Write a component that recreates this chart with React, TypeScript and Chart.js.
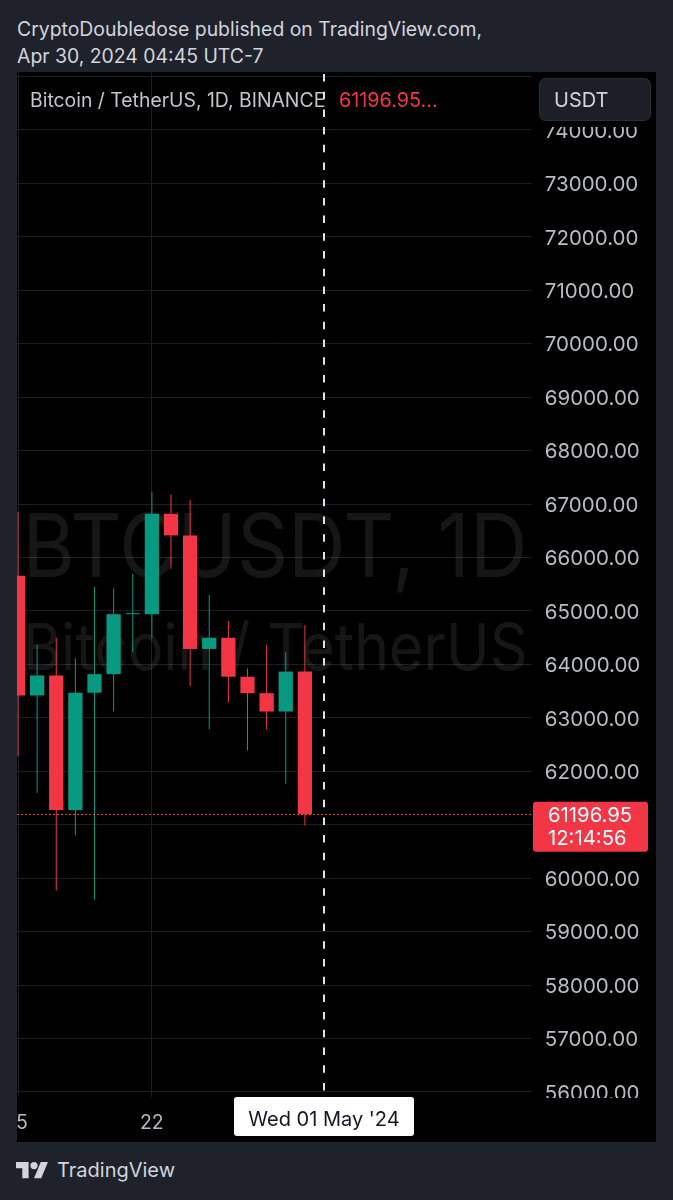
import { useEffect, useRef } from "react";
import { Chart, registerables } from "chart.js";

Chart.register(...registerables);

// ---------- data ----------
const dayLabels = ["Apr 15", "Apr 16", "Apr 17", "Apr 18", "Apr 19", "Apr 20", "Apr 21", "Apr 22", "Apr 23", "Apr 24", "Apr 25", "Apr 26", "Apr 27", "Apr 28", "Apr 29", "Apr 30"];
const openPrices = [65660, 63419.14, 63793.4, 61277.38, 63470.09, 63818.01, 64940.58, 64941.15, 66819.32, 66414.0, 64289.59, 64498.33, 63770.0, 63461.98, 63118.63, 63866.0];
const highPrices = [66860, 64365.0, 64499.0, 64117.79, 65450.0, 65419.0, 65695.56, 67232.35, 67183.01, 67075.37, 65297.94, 64813.0, 63923.41, 64370.0, 64228.35, 64734.0];
const lowPrices = [62280, 61600.0, 59768.59, 60803.35, 59600.01, 63120.0, 64230.0, 64500.0, 65790.0, 63589.87, 62794.0, 63290.0, 62391.24, 62781.0, 61765.53, 60986.0];
const closePrices = [63419.14, 63793.39, 61277.37, 63470.08, 63818.01, 64940.59, 64941.15, 66819.32, 66414.0, 64289.59, 64498.34, 63770.01, 63461.98, 63118.62, 63866.0, 61196.95];

const xTickIndexes = [0, 7];
const xTickLabels = ["15", "22"];
const yTickValues = [56000, 57000, 58000, 59000, 60000, 61000, 62000, 63000, 64000, 65000, 66000, 67000, 68000, 69000, 70000, 71000, 72000, 73000, 74000, 75000];

const lastPrice = 61196.95;
const countdownText = "12:14:56";
const crosshairIndex = 16;
const crosshairDateText = "Wed 01 May '24";
const symbolTitle = "Bitcoin / TetherUS, 1D, BINANCE";
const watermarkLine1 = "BTCUSDT, 1D";
const watermarkLine2 = "Bitcoin / TetherUS";
const currencyText = "USDT";
const headerLine1 = "CryptoDoubledose published on TradingView.com,";
const headerLine2 = "Apr 30, 2024 04:45 UTC-7";
const footerBrand = "TradingView";

// ---------- style ----------
const FONT = "Inter, 'Noto Sans', sans-serif";
const PAGE_BG = "#1f222b";
const UP = "#089981";
const DOWN = "#f23645";
const GRID = "#1c1e24";
const AXIS_TEXT = "#b8bbc3";
const LEGEND_TEXT = "#c2c5cc";
const HEADER_TEXT = "#d1d4dc";
const WATERMARK = "rgba(255,255,255,0.085)";

const X_MIN = -0.0523;
const X_MAX = 26.876;
const Y_MIN = 55906;
const Y_MAX = 75085;

function drawFitText(ctx: CanvasRenderingContext2D, text: string, font: string, cx: number, baseline: number, width: number) {
  ctx.font = font;
  const w = ctx.measureText(text).width;
  ctx.save();
  ctx.translate(cx, baseline);
  ctx.scale(width / w, 1);
  ctx.textAlign = "center";
  ctx.textBaseline = "alphabetic";
  ctx.fillText(text, 0, 0);
  ctx.restore();
}

const tvPlugin = {
  id: "tvOverlay",
  beforeDatasetsDraw(chart: any) {
    const { ctx, chartArea: a } = chart;
    ctx.save();
    ctx.beginPath();
    ctx.rect(a.left, a.top, a.right - a.left, a.bottom - a.top);
    ctx.clip();
    ctx.fillStyle = WATERMARK;
    const cx = (a.left + a.right) / 2 + 0.5;
    drawFitText(ctx, watermarkLine1, `88px ${FONT}`, cx, 505, 505);
    drawFitText(ctx, watermarkLine2, `65px ${FONT}`, cx, 598, 505);
    ctx.restore();
  },
  afterDatasetsDraw(chart: any) {
    const { ctx, chartArea: a, scales } = chart;
    const y = scales.y;
    const x = scales.x;
    ctx.save();
    // last price dotted line
    const py = Math.round(y.getPixelForValue(lastPrice)) + 0.5;
    ctx.strokeStyle = DOWN;
    ctx.lineWidth = 1;
    ctx.setLineDash([2, 2]);
    ctx.beginPath();
    ctx.moveTo(a.left, py);
    ctx.lineTo(a.right, py);
    ctx.stroke();
    // legend
    ctx.setLineDash([]);
    ctx.font = `19.4px ${FONT}`;
    ctx.textAlign = "left";
    ctx.textBaseline = "alphabetic";
    ctx.fillStyle = LEGEND_TEXT;
    ctx.fillText(symbolTitle, 13, 35);
    ctx.fillStyle = DOWN;
    ctx.font = `19.8px ${FONT}`;
    ctx.fillText(`${lastPrice.toFixed(2)}...`, 322, 35);
    // crosshair
    const cxp = Math.round(x.getPixelForValue(crosshairIndex));
    ctx.strokeStyle = "#e1e3ea";
    ctx.lineWidth = 2;
    ctx.setLineDash([7.5, 10.2]);
    ctx.lineDashOffset = -2;
    ctx.beginPath();
    ctx.moveTo(cxp, a.top);
    ctx.lineTo(cxp, a.bottom);
    ctx.stroke();
    ctx.restore();
  },
  afterDraw(chart: any) {
    const { ctx, chartArea: a, scales, width: W, height: H } = chart;
    const y = scales.y;
    const x = scales.x;
    ctx.save();
    ctx.fillStyle = "#000";
    ctx.fillRect(a.right + 1, 0, W - a.right, 55);
    ctx.fillRect(a.right + 1, a.bottom + 1, W - a.right, H - a.bottom);
    // currency box
    ctx.beginPath();
    ctx.roundRect(522.5, 6.5, 111, 42, 6);
    ctx.fillStyle = "#1c1f26";
    ctx.fill();
    ctx.strokeStyle = "#2a2d35";
    ctx.lineWidth = 1;
    ctx.stroke();
    ctx.font = `20px ${FONT}`;
    ctx.fillStyle = HEADER_TEXT;
    ctx.textAlign = "left";
    ctx.textBaseline = "alphabetic";
    ctx.fillText(currencyText, 537, 35);
    // last price label
    const py = y.getPixelForValue(lastPrice);
    ctx.beginPath();
    ctx.roundRect(516, py - 12.5, 115, 50, 3);
    ctx.fillStyle = DOWN;
    ctx.fill();
    ctx.fillStyle = "#ffffff";
    ctx.font = `20.3px ${FONT}`;
    ctx.fillText(lastPrice.toFixed(2), 531, py + 8);
    ctx.fillText(countdownText, 531, py + 31);
    // crosshair date label
    const cxp = Math.round(x.getPixelForValue(crosshairIndex));
    ctx.beginPath();
    ctx.roundRect(cxp - 90, a.bottom, 180, 39, 3);
    ctx.fillStyle = "#ffffff";
    ctx.fill();
    ctx.fillStyle = "#131722";
    ctx.font = `20px ${FONT}`;
    ctx.textAlign = "center";
    ctx.fillText(crosshairDateText, cxp, a.bottom + 29);
    ctx.restore();
  },
};

export default function App() {
  const canvasRef = useRef<HTMLCanvasElement>(null);

  useEffect(() => {
    const canvas = canvasRef.current;
    if (!canvas) return;
    Chart.defaults.font.family = FONT;

    const mctx = document.createElement("canvas").getContext("2d")!;
    mctx.font = `20.5px ${FONT}`;
    const labelW = mctx.measureText("74000.00").width;
    const yPad = 106 - labelW;

    const colors = openPrices.map((o, i) => (closePrices[i] >= o ? UP : DOWN));
    const wickData = dayLabels.map((_, i) => ({ x: i, y: [lowPrices[i], highPrices[i]] }));
    const bodyData = dayLabels.map((_, i) => ({ x: i, y: [openPrices[i], closePrices[i]] }));

    const chart = new Chart(canvas, {
      type: "bar",
      data: {
        datasets: [
          {
            label: "wicks",
            data: wickData as any,
            backgroundColor: colors,
            borderWidth: 0,
            maxBarThickness: 1,
            grouped: false,
            order: 1,
          },
          {
            label: "bodies",
            data: bodyData as any,
            backgroundColor: colors,
            borderWidth: 0,
            barPercentage: 0.745,
            categoryPercentage: 1,
            grouped: false,
            minBarLength: 1,
            order: 0,
          },
        ],
      },
      options: {
        responsive: false,
        animation: false,
        devicePixelRatio: 1,
        events: [],
        layout: { padding: 0 },
        plugins: { legend: { display: false }, tooltip: { enabled: false } },
        scales: {
          x: {
            type: "linear",
            min: X_MIN,
            max: X_MAX,
            offset: false,
            afterBuildTicks: (s: any) => {
              s.ticks = xTickIndexes.map((v) => ({ value: v }));
            },
            afterFit: (s: any) => {
              s.height = 45;
              s.paddingLeft = 0;
              s.paddingRight = 0;
            },
            ticks: {
              autoSkip: false,
              maxRotation: 0,
              padding: 14,
              color: AXIS_TEXT,
              font: { size: 19.5, family: FONT },
              callback: (_v: any, i: number) => xTickLabels[i],
            },
            grid: { color: GRID, drawTicks: false, offset: false, lineWidth: 1 },
            border: { display: false },
          },
          y: {
            type: "linear",
            position: "right",
            min: Y_MIN,
            max: Y_MAX,
            beginAtZero: false,
            afterBuildTicks: (s: any) => {
              s.ticks = yTickValues.map((v) => ({ value: v }));
            },
            afterFit: (s: any) => {
              s.width = 124;
              s.paddingTop = 0;
              s.paddingBottom = 0;
            },
            ticks: {
              padding: yPad,
              labelOffset: 1.5,
              color: AXIS_TEXT,
              font: { size: 20.5, family: FONT },
              callback: (v: any) => Number(v).toFixed(2),
            },
            grid: { color: GRID, drawTicks: false, lineWidth: 1 },
            border: { display: false },
          },
        },
      },
      plugins: [tvPlugin],
    } as any);

    return () => chart.destroy();
  }, []);

  return (
    <div style={{ position: "absolute", left: 0, top: 0, width: 673, height: 1200, background: PAGE_BG, overflow: "hidden" }}>
      <svg width={673} height={1200} style={{ position: "absolute", left: 0, top: 0 }}>
        <text x={17} y={36} fill={HEADER_TEXT} fontFamily={FONT} fontSize={19.4}>{headerLine1}</text>
        <text x={17} y={63} fill={HEADER_TEXT} fontFamily={FONT} fontSize={19.4}>{headerLine2}</text>
        <g transform="translate(16,1158.4) scale(0.9)" fill={HEADER_TEXT}>
          <path d="M14 22H7V11H0V4h14v18zM28 22h-8l7.5-18h8L28 22z" />
          <circle cx={20} cy={8} r={4} />
        </g>
        <text x={57} y={1177} fill={HEADER_TEXT} fontFamily={FONT} fontSize={20}>{footerBrand}</text>
      </svg>
      <div style={{ position: "absolute", left: 17, top: 72, width: 639, height: 1070, background: "#000" }}>
        <canvas ref={canvasRef} width={639} height={1070} style={{ display: "block", width: 639, height: 1070 }} />
      </div>
    </div>
  );
}
